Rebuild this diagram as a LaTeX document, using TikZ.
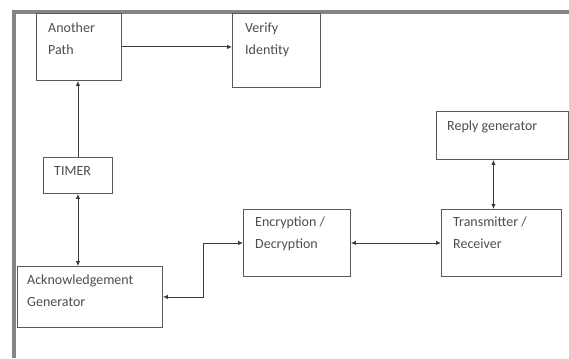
\documentclass[tikz,border=0pt]{standalone}
\usepackage{fontspec}
\setmainfont{Carlito}
\usepackage{tikz}
\definecolor{ink}{HTML}{3A3A3A}
\definecolor{edge}{HTML}{5A5A5A}
\definecolor{frame}{HTML}{858585}
\usetikzlibrary{
  arrows.meta,
  positioning,
  calc
}
\tikzset{
  >={Latex[length=5pt,width=4.5pt]},
  every picture/.style={line join=miter},
  blk/.style={
    draw=edge,
    line width=0.9pt,
    fill=white,
    anchor=north west,
    inner sep=0pt
  },
  txt/.style={
    anchor=north west,
    inner sep=0pt,
    align=left,
    text=ink!90,
    font=\fontsize{14}{22}\selectfont
  },
  link/.style={line width=0.9pt, draw=ink},
  border/.style={line width=4pt, draw=frame}
}

\begin{document}
\begin{tikzpicture}[x=1pt, y=-1pt]
  \useasboundingbox (0,0) rectangle (569,358);

  % Outer frame
  \draw[border] (14,358) -- (14,12) -- (569,12);

  % Boxes
  \node[blk, minimum width=85pt, minimum height=67pt] (path) at (36,13) {};
  \node[blk, minimum width=88pt, minimum height=74pt] (verify) at (232,13) {};
  \node[blk, minimum width=69pt, minimum height=36pt] (timer) at (43,157) {};
  \node[blk, minimum width=145pt, minimum height=61pt] (ack) at (17,266) {};
  \node[blk, minimum width=107pt, minimum height=67pt] (enc) at (243,209) {};
  \node[blk, minimum width=120pt, minimum height=67pt] (trans) at (441,209) {};
  \node[blk, minimum width=132pt, minimum height=48pt] (reply) at (436,111) {};

  % Texts
  \node[txt] (pathtxt) at ($(path.north west)+(12,10)$) {Another\\Path};
  \node[txt] (verifytxt) at ($(verify.north west)+(13,10)$) {Verify\\Identity};
  \node[txt] (timertxt) at ($(timer.north west)+(11,9)$) {TIMER};
  \node[txt] (acktxt) at ($(ack.north west)+(10,9)$) {Acknowledgement\\Generator};
  \node[txt] (enctxt) at ($(enc.north west)+(12,8)$) {Encryption /\\Decryption};
  \node[txt] (transtxt) at ($(trans.north west)+(12,8)$) {Transmitter /\\Receiver};
  \node[txt] (replytxt) at ($(reply.north west)+(11,10)$) {Reply generator};

  % Links
  \draw[link, ->] (path.east) -- (path.east -| verify.west);
  \draw[link, ->] (timer.north) -- (timer.north |- path.south);
  \draw[link, <->] (timer.south) -- (timer.south |- ack.north);
  \draw[link, <->] (ack.east) -- ++(41,0) |- (enc.west);
  \draw[link, <->] (enc.east) -- (enc.east -| trans.west);
  \draw[link, <->] ([xshift=-8pt]trans.north) -- ([xshift=-8pt]trans.north |- reply.south);
\end{tikzpicture}
\end{document}
